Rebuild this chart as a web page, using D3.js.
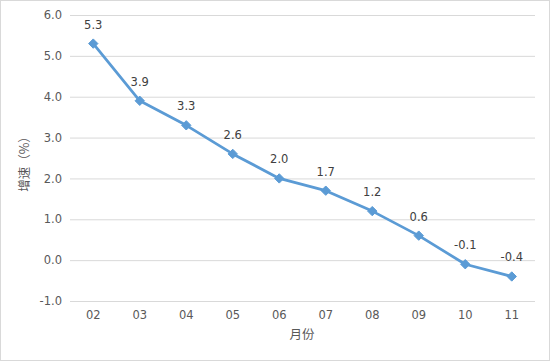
<!DOCTYPE html>
<html><head><meta charset="utf-8">
<script src="https://cdn.jsdelivr.net/npm/d3@7"></script>
<style>body{margin:0;background:#fff}svg{display:block}</style>
</head><body>
<script>
const categories = ["02","03","04","05","06","07","08","09","10","11"];
const values = [5.3, 3.9, 3.3, 2.6, 2.0, 1.7, 1.2, 0.6, -0.1, -0.4];
const yTicks = [-1, 0, 1, 2, 3, 4, 5, 6];
const yTitle = "增速（%）";
const xTitle = "月份";

const W = 550, H = 361;
const m = {left: 70, right: 535, top: 15, bottom: 301};
const font = "'DejaVu Sans', sans-serif";
const fmt = d => d3.format(".1f")(d).replace("\u2212", "-");
const svg = d3.select("body").append("svg").attr("width", W).attr("height", H);
svg.append("rect").attr("x",0.5).attr("y",0.5).attr("width",W-1).attr("height",H-1)
  .attr("fill","#fff").attr("stroke","#d9d9d9");

const x = d3.scaleBand().domain(categories).range([m.left, m.right]);
const y = d3.scaleLinear().domain([-1, 6]).range([m.bottom, m.top]);

const gy = svg.append("g").attr("transform",`translate(${m.left},0)`)
  .call(d3.axisLeft(y).tickValues(yTicks).tickFormat(fmt).tickSize(-(m.right-m.left)).tickPadding(8));
gy.select(".domain").remove();
gy.selectAll(".tick line").attr("stroke","#d9d9d9");
gy.selectAll(".tick text").attr("fill","#595959").style("font-family",font).style("font-size","11.5px");

const gx = svg.append("g").attr("transform",`translate(0,${m.bottom})`)
  .call(d3.axisBottom(x).tickSize(0).tickPadding(10));
gx.select(".domain").remove();
gx.selectAll(".tick text").attr("fill","#595959").style("font-family",font).style("font-size","11.5px");

const cx = d => x(d) + x.bandwidth()/2;
const line = d3.line().x((d,i)=>cx(categories[i])).y(d=>y(d));
svg.append("path").datum(values).attr("d",line).attr("fill","none")
  .attr("stroke","#5b9bd5").attr("stroke-width",2.75).attr("stroke-linejoin","round");

svg.selectAll(".pt").data(values).enter().append("path")
  .attr("d", d3.symbol().type(d3.symbolDiamond2).size(56))
  .attr("transform",(d,i)=>`translate(${cx(categories[i])},${y(d)})`)
  .attr("fill","#5b9bd5").attr("stroke","#5b9bd5").attr("stroke-width",1);

svg.selectAll(".lbl").data(values).enter().append("text")
  .attr("x",(d,i)=>cx(categories[i])).attr("y",d=>y(d)-15)
  .attr("text-anchor","middle").attr("fill","#404040")
  .style("font-family",font).style("font-size","11.5px")
  .text(fmt);

svg.append("text").attr("transform",`translate(29,161) rotate(-90)`)
  .attr("text-anchor","middle").attr("fill","#595959")
  .style("font-family","'Noto Sans CJK SC', sans-serif").style("font-size","12.5px").text(yTitle);
svg.append("text").attr("x",302).attr("y",339).attr("text-anchor","middle").attr("fill","#595959")
  .style("font-family","'Noto Sans CJK SC', sans-serif").style("font-size","12.5px").text(xTitle);
</script>
</body></html>
